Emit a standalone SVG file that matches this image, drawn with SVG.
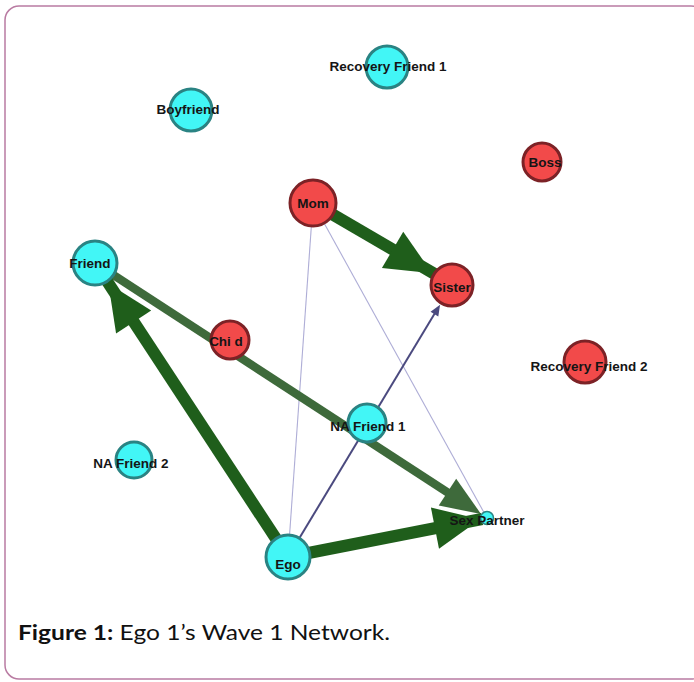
<svg xmlns="http://www.w3.org/2000/svg" xmlns:xlink="http://www.w3.org/1999/xlink" width="694" height="682" viewBox="0 0 694 682">
<style>
.lbl{font-family:"Liberation Sans",Arial,sans-serif;font-weight:bold;font-size:13.5px;fill:#151515;text-anchor:middle}
.cy{fill:#42f6f6;stroke:#2a8383;stroke-width:3}
.rd{fill:#f24a4a;stroke:#7c2226;stroke-width:3}
.thick{stroke:#1f5e1b;stroke-width:12;fill:none}
.med{stroke:#3e6a3b;stroke-width:8.5;fill:none}
.thin{stroke:#aeadd6;stroke-width:1.1;fill:none}
.blue{stroke:#4b4a7f;stroke-width:2;fill:none}
.cap{font-family:Lato,"Open Sans","Liberation Sans",sans-serif;font-size:20.5px;fill:#111}
</style>
<defs>
<polygon id="ahBig" points="0,0 -46,-21 -46,21"/>
<polygon id="ahMed" points="0,0 -40,-16 -40,16"/>
<polygon id="ahSmall" points="0,0 -11,-4.5 -11,4.5"/>
</defs>
<rect x="5" y="6" width="700" height="673" rx="14" ry="14" fill="#fff" stroke="#b97ba2" stroke-width="1.5"/>
<g id="connectors">
<line class="thin" x1="313" y1="203" x2="288" y2="557"/>
<line class="thin" x1="313" y1="203" x2="487" y2="518"/>
<line class="blue" x1="288" y1="557" x2="438" y2="308"/>
<use xlink:href="#ahSmall" fill="#4b4a7f" transform="translate(440.1,304.7) rotate(-58.9)"/>
<line class="med" x1="95" y1="263" x2="450" y2="494"/>
<use xlink:href="#ahMed" fill="#3e6a3b" transform="translate(481,514) rotate(33.04)"/>
<line class="thick" x1="313" y1="203" x2="445" y2="280"/>
<use xlink:href="#ahBig" fill="#1f5e1b" transform="translate(432.2,273.3) rotate(30.54)"/>
<line class="thick" x1="288" y1="557" x2="103" y2="275"/>
<use xlink:href="#ahBig" fill="#1f5e1b" transform="translate(108.4,283.5) rotate(-123.28)"/>
<line class="thick" x1="288" y1="557" x2="482" y2="519"/>
<use xlink:href="#ahBig" fill="#1f5e1b" transform="translate(480.1,519.3) rotate(-11.09)"/>
</g>
<g id="node-recovery-friend-1"><circle class="cy" cx="387" cy="67" r="21"/><text class="lbl" x="388" y="70.5">Recovery Friend 1</text></g>
<g id="node-boyfriend"><circle class="cy" cx="191" cy="110" r="21"/><text class="lbl" x="188" y="113.5">Boyfriend</text></g>
<g id="node-boss"><circle class="rd" cx="542" cy="162" r="19"/><text class="lbl" x="545" y="166.5">Boss</text></g>
<g id="node-mom"><circle class="rd" cx="313" cy="203" r="23"/><text class="lbl" x="313" y="207.5">Mom</text></g>
<g id="node-friend"><circle class="cy" cx="95" cy="263" r="22"/><text class="lbl" x="90" y="267.5">Friend</text></g>
<g id="node-sister"><circle class="rd" cx="452" cy="285" r="21"/><text class="lbl" x="452" y="291.5">Sister</text></g>
<g id="node-child"><circle class="rd" cx="230" cy="340" r="19"/><text class="lbl" x="226" y="345.5">Chi d</text></g>
<g id="node-recovery-friend-2"><circle class="rd" cx="585" cy="362" r="21"/><text class="lbl" x="589" y="370.5">Recovery Friend 2</text></g>
<g id="node-na-friend-1"><circle class="cy" cx="367" cy="423" r="19"/><text class="lbl" x="368" y="430.5">NA Friend 1</text></g>
<g id="node-na-friend-2"><circle class="cy" cx="134" cy="460" r="18"/><text class="lbl" x="131" y="467.5">NA Friend 2</text></g>
<g id="node-sex-partner"><circle cx="487" cy="518" r="6.5" fill="#42f6f6" stroke="#2a8383" stroke-width="1.5"/><text class="lbl" x="487" y="524.5">Sex Partner</text></g>
<g id="node-ego"><circle class="cy" cx="288" cy="557" r="22"/><text class="lbl" x="288" y="568.5">Ego</text></g>
<text class="cap" x="18" y="640" textLength="372" lengthAdjust="spacingAndGlyphs"><tspan font-weight="bold">Figure 1:</tspan> Ego 1’s Wave 1 Network.</text>
</svg>
